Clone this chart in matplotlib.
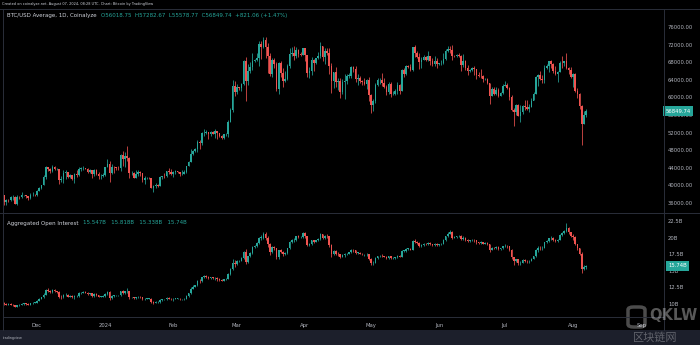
import numpy as np
import pandas as pd
import matplotlib
matplotlib.use("Agg")
import matplotlib.pyplot as plt
import matplotlib.dates as mdates
from matplotlib.lines import Line2D
from matplotlib.patches import Rectangle, FancyBboxPatch
from matplotlib.transforms import blended_transform_factory

# daily candles, 16 Nov 2023 .. 7 Aug 2024
dates = pd.date_range("2023-11-16", "2024-08-07", freq="D")

# BTC/USD average, thousands of USD. open of each day = previous close
btc_first_open = 37.88
btc_close = [
    36.16, 36.59, 36.58, 37.39, 37.47, 35.81, 37.42, 37.29, 37.72, 37.80, 37.48, 37.25, 37.83, 37.86, 37.71,
    38.69, 39.47, 39.98, 41.98, 44.08, 43.77, 43.29, 44.17, 43.72, 43.79, 41.24, 41.45, 42.89, 43.02, 41.94, 42.26,
    41.37, 42.66, 42.27, 43.65, 43.86, 43.99, 43.74, 43.01, 43.58, 42.51, 43.44, 42.59, 42.07, 42.14, 42.28,
    44.18, 44.94, 42.85, 44.17, 44.16, 43.97, 43.93, 46.97, 46.11, 46.63, 46.34, 42.78, 42.84, 41.73, 42.51, 43.15,
    42.74, 41.26, 41.62, 41.66, 41.58, 39.51, 39.85, 40.08, 39.93, 41.81, 42.12, 42.03, 43.30, 42.94, 42.58,
    43.08, 43.19, 43.01, 42.58, 42.66, 43.08, 44.34, 45.29, 47.13, 47.75, 48.29, 49.96, 49.70, 51.80, 51.92,
    52.13, 51.66, 52.12, 51.78, 52.26, 51.85, 51.30, 50.74, 51.57, 51.73, 54.52, 57.08, 62.50, 61.20,
    62.44, 62.03, 63.13, 68.33, 63.80, 66.11, 66.93, 68.30, 68.50, 69.02, 72.12, 71.48, 73.10, 71.40, 69.40, 65.30,
    68.39, 67.60, 61.93, 67.84, 65.50, 63.80, 64.10, 67.23, 69.96, 69.98, 69.46, 70.78, 69.85, 69.58, 71.29,
    69.65, 65.46, 65.97, 68.50, 67.84, 68.90, 69.36, 71.62, 69.14, 70.59, 70.06, 67.19, 63.82, 65.74, 63.42,
    63.79, 61.28, 63.47, 63.77, 64.94, 64.94, 66.84, 66.41, 64.29, 64.50, 63.77, 63.46, 63.12, 63.84, 60.64,
    58.25, 59.12, 62.89, 63.89, 64.03, 63.16, 62.33, 61.19, 63.05, 60.79, 60.79, 61.45, 62.90, 61.55, 66.27, 65.23,
    67.05, 66.94, 66.27, 71.45, 70.14, 69.12, 67.93, 68.53, 69.28, 68.50, 69.40, 68.30, 67.60, 68.36, 67.49,
    67.71, 67.75, 68.80, 70.57, 71.08, 70.76, 69.34, 69.30, 69.65, 69.51, 67.32, 68.24, 66.76, 66.01, 66.19,
    66.64, 66.49, 65.14, 64.96, 64.83, 64.10, 64.25, 63.18, 60.28, 61.80, 60.86, 61.70, 60.32, 60.89, 62.68,
    62.85, 62.03, 60.20, 57.03, 56.66, 58.23, 55.86, 56.72, 58.02, 57.74, 57.34, 57.90, 59.22, 60.79, 64.72, 65.04,
    64.09, 63.99, 66.68, 67.15, 68.17, 67.58, 65.93, 65.37, 65.78, 67.91, 67.81, 68.26, 66.78, 66.19, 64.62,
    65.35, 61.42, 60.68, 58.12, 54.02, 56.01875, 56.84974,
]
btc_high = [
    37.93, 36.84, 36.86, 37.53, 37.76, 37.66, 37.88, 37.64, 38.42, 37.88, 37.83, 37.59, 38.37, 38.44, 38.16,
    38.97, 39.68, 40.19, 42.41, 44.41, 44.28, 44.02, 44.71, 44.37, 44.04, 43.80, 42.07, 43.43, 43.41, 43.09, 42.70,
    42.43, 42.75, 43.48, 44.27, 44.20, 44.36, 43.99, 43.94, 43.77, 43.58, 43.68, 43.78, 43.11, 42.61, 42.88,
    44.19, 45.90, 45.50, 44.78, 44.33, 44.23, 44.50, 47.21, 47.89, 47.70, 48.97, 46.51, 43.24, 43.05, 43.40, 43.57,
    43.19, 42.93, 42.19, 41.87, 41.88, 41.69, 40.13, 40.51, 40.28, 42.20, 42.20, 42.84, 43.32, 43.88, 43.74,
    43.25, 43.48, 43.38, 43.12, 43.53, 43.40, 44.50, 45.60, 48.17, 48.14, 48.57, 50.30, 50.37, 52.04, 52.82,
    52.57, 52.15, 52.36, 52.47, 52.93, 52.36, 52.02, 51.55, 51.70, 51.95, 54.92, 57.53, 63.96, 63.68,
    62.98, 62.43, 63.20, 68.51, 69.20, 67.64, 67.95, 70.08, 68.67, 70.00, 72.80, 72.92, 73.64, 73.78, 72.38, 70.00,
    68.84, 68.90, 68.11, 68.05, 68.24, 66.65, 65.95, 67.58, 71.15, 71.52, 71.70, 71.50, 70.90, 70.30, 71.33,
    71.27, 69.65, 66.87, 69.25, 68.70, 69.00, 70.30, 72.70, 71.70, 71.15, 71.25, 71.22, 67.90, 65.82, 66.82,
    64.36, 64.45, 64.10, 65.42, 65.40, 65.65, 67.20, 67.17, 67.05, 65.26, 64.80, 63.90, 64.30, 64.20, 64.70,
    60.80, 59.55, 63.30, 64.45, 64.50, 65.50, 64.40, 62.90, 63.40, 63.45, 61.45, 61.80, 63.40, 63.10, 66.42, 66.70,
    67.40, 67.40, 67.70, 71.50, 71.95, 70.60, 70.05, 69.20, 69.55, 69.50, 70.60, 69.50, 68.90, 69.50, 69.00,
    67.85, 68.40, 70.20, 71.05, 71.75, 71.60, 71.95, 69.55, 69.85, 70.10, 69.55, 69.95, 68.40, 67.30, 66.40,
    66.95, 67.20, 66.40, 65.70, 66.45, 65.05, 64.50, 64.50, 63.35, 62.30, 62.45, 62.35, 62.20, 61.20, 63.00,
    63.80, 63.25, 62.25, 60.50, 57.50, 58.45, 58.40, 58.20, 58.30, 59.40, 59.40, 58.50, 59.80, 61.30, 64.85, 65.30,
    66.10, 65.10, 67.40, 67.60, 68.35, 68.45, 67.80, 67.05, 66.10, 68.20, 69.40, 68.30, 70.00, 66.95, 66.80,
    65.60, 65.55, 62.15, 61.10, 58.20, 57.00, 57.28267,
]
btc_low = [
    35.60, 35.52, 36.22, 36.39, 36.72, 35.69, 35.63, 36.93, 37.25, 37.61, 37.17, 36.71, 36.90, 37.62, 37.50,
    37.61, 38.65, 39.28, 39.98, 41.41, 43.38, 42.82, 43.10, 43.61, 43.59, 40.23, 40.68, 40.63, 41.42, 41.69, 41.68,
    41.26, 40.53, 41.80, 42.20, 43.33, 43.40, 43.62, 42.76, 42.75, 41.63, 42.11, 42.31, 41.44, 41.52, 41.97,
    42.20, 44.18, 40.75, 42.63, 42.78, 43.47, 43.60, 43.19, 44.34, 44.29, 45.60, 41.76, 42.43, 41.72, 41.72, 42.05,
    42.19, 40.67, 40.28, 41.45, 41.50, 39.45, 38.55, 39.48, 39.53, 39.82, 41.39, 41.62, 41.80, 42.69, 42.30,
    41.88, 42.60, 42.89, 42.22, 42.26, 42.57, 42.79, 44.34, 45.24, 46.87, 47.55, 47.70, 48.30, 49.27, 51.32,
    51.60, 50.64, 51.17, 51.65, 50.75, 50.64, 50.94, 50.55, 50.63, 51.28, 50.90, 54.45, 56.71, 60.41,
    60.82, 61.63, 61.36, 62.89, 59.22, 62.87, 65.55, 66.22, 68.05, 68.23, 67.20, 68.80, 71.33, 68.90, 65.60, 64.80,
    64.60, 66.60, 61.55, 60.78, 64.60, 62.30, 63.40, 63.90, 66.60, 69.40, 68.40, 68.85, 69.10, 69.35, 69.57,
    68.20, 64.55, 64.50, 65.10, 66.00, 67.48, 68.70, 69.05, 68.25, 67.50, 69.60, 65.25, 60.90, 62.20, 62.35,
    61.70, 59.80, 60.80, 59.60, 63.12, 64.30, 64.50, 65.85, 63.60, 62.80, 63.30, 62.80, 62.90, 61.80, 59.15,
    56.55, 56.95, 58.80, 62.60, 62.95, 62.70, 62.20, 60.65, 60.70, 60.20, 60.50, 60.65, 60.80, 60.75, 61.35, 64.60,
    65.10, 66.65, 65.90, 66.10, 69.20, 68.90, 66.40, 66.70, 68.50, 68.20, 68.30, 67.30, 67.15, 67.15, 66.70,
    67.40, 67.30, 67.60, 68.60, 70.40, 70.20, 68.60, 69.20, 69.15, 69.25, 66.10, 66.90, 66.30, 65.10, 65.85,
    66.05, 65.10, 64.10, 64.70, 64.50, 63.40, 63.95, 63.15, 58.45, 60.25, 60.60, 60.65, 60.00, 60.30, 60.75,
    62.50, 61.80, 59.40, 56.80, 53.50, 56.10, 55.75, 54.30, 56.30, 57.20, 57.05, 56.60, 57.80, 59.50, 60.70, 62.50,
    63.95, 63.25, 63.30, 66.50, 65.80, 66.60, 65.50, 65.10, 63.50, 65.75, 66.70, 67.10, 66.50, 65.40, 64.50,
    62.30, 61.25, 59.90, 57.25, 49.10, 53.90, 55.57877,
]

# aggregated open interest, billions of USD
oi_first_open = 10.1
oi_close = [
    10.0, 9.9, 10.0, 9.9, 9.8, 9.6, 9.8, 9.9, 10.0, 10.1, 10.0, 9.9, 10.1, 10.2, 10.2,
    10.5, 10.8, 11.0, 11.4, 12.1, 12.0, 11.8, 12.1, 11.9, 11.8, 11.1, 11.0, 11.3, 11.4, 11.1, 11.2,
    11.0, 11.2, 11.2, 11.6, 11.7, 11.8, 11.7, 11.5, 11.6, 11.2, 11.5, 11.3, 11.1, 11.1, 11.2,
    11.5, 11.8, 10.9, 11.2, 11.3, 11.3, 11.3, 11.9, 11.7, 11.9, 12.0, 11.0, 11.0, 10.9, 11.0, 11.1,
    11.0, 10.7, 10.8, 10.8, 10.8, 10.3, 10.2, 10.3, 10.3, 10.6, 10.7, 10.7, 10.9, 10.8, 10.7,
    10.8, 10.8, 10.8, 10.7, 10.7, 10.8, 11.2, 11.6, 12.3, 12.6, 12.8, 13.5, 13.4, 14.0, 14.2,
    14.1, 13.9, 14.0, 13.9, 13.9, 13.8, 13.6, 13.5, 13.7, 13.8, 14.5, 15.2, 16.2, 16.0,
    16.4, 16.5, 16.9, 17.9, 16.3, 17.2, 17.7, 18.6, 18.8, 19.2, 20.0, 20.0, 20.6, 20.0, 19.0, 17.9,
    18.6, 18.4, 17.0, 18.1, 17.9, 17.5, 17.7, 18.4, 19.3, 19.6, 19.7, 20.2, 20.1, 20.1, 20.7,
    20.2, 18.9, 19.0, 19.6, 19.4, 19.6, 19.8, 20.5, 20.0, 20.3, 20.2, 18.9, 17.6, 18.0, 17.6,
    17.5, 17.1, 17.4, 17.5, 17.6, 17.8, 18.2, 18.1, 17.7, 17.7, 17.6, 17.5, 17.5, 17.5, 16.8,
    16.1, 16.2, 16.9, 17.2, 17.3, 17.2, 17.1, 16.9, 17.2, 16.9, 16.9, 17.0, 17.3, 17.1, 18.0, 18.0,
    18.3, 18.3, 18.2, 19.5, 19.4, 19.2, 18.8, 18.9, 19.1, 19.0, 19.2, 19.0, 18.9, 19.1, 18.9,
    19.0, 19.1, 19.6, 20.2, 20.6, 20.8, 20.0, 20.1, 20.2, 20.3, 19.8, 20.0, 19.7, 19.5, 19.6,
    19.7, 19.6, 19.3, 19.2, 19.3, 19.1, 19.2, 19.0, 18.2, 18.5, 18.4, 18.6, 18.3, 18.4, 18.7,
    18.8, 18.7, 18.2, 17.0, 16.4, 16.7, 16.1, 16.2, 16.6, 16.5, 16.4, 16.5, 16.8, 17.2, 18.1, 18.5,
    18.4, 18.5, 19.3, 19.5, 19.9, 20.0, 19.6, 19.5, 19.7, 20.4, 20.7, 21.0, 21.5, 20.8, 20.3,
    20.1, 19.0, 18.4, 17.6, 15.3, 15.547, 15.74,
]
oi_high = [
    10.3, 10.1, 10.1, 10.1, 10.0, 9.9, 9.9, 10.0, 10.1, 10.2, 10.2, 10.1, 10.2, 10.3, 10.3,
    10.6, 10.9, 11.1, 11.6, 12.3, 12.4, 12.1, 12.3, 12.2, 12.0, 11.9, 11.3, 11.5, 11.6, 11.5, 11.3,
    11.3, 11.3, 11.4, 11.8, 11.8, 11.9, 11.9, 11.8, 11.7, 11.7, 11.6, 11.6, 11.4, 11.2, 11.3,
    11.6, 12.0, 11.9, 11.3, 11.4, 11.4, 11.4, 12.0, 12.1, 12.0, 12.4, 12.0, 11.1, 11.1, 11.1, 11.2,
    11.2, 11.1, 10.9, 10.9, 10.9, 10.9, 10.4, 10.4, 10.4, 10.7, 10.8, 10.8, 11.0, 11.0, 10.9,
    10.9, 10.9, 10.9, 10.9, 10.8, 10.9, 11.3, 11.7, 12.5, 12.8, 12.9, 13.6, 13.7, 14.1, 14.4,
    14.3, 14.2, 14.1, 14.1, 14.1, 14.0, 13.9, 13.7, 13.8, 13.9, 14.6, 15.4, 16.8, 16.6,
    16.6, 16.6, 17.0, 18.0, 18.3, 17.3, 17.9, 18.8, 18.9, 19.4, 20.1, 20.4, 20.8, 20.9, 20.3, 19.2,
    18.8, 18.8, 18.5, 18.2, 18.3, 18.0, 17.8, 18.5, 19.5, 19.8, 20.0, 20.3, 20.4, 20.2, 20.8,
    20.9, 20.3, 19.2, 19.7, 19.7, 19.7, 19.9, 20.7, 20.6, 20.4, 20.5, 20.3, 19.0, 18.1, 18.1,
    17.8, 17.6, 17.5, 17.7, 17.7, 17.9, 18.3, 18.3, 18.2, 17.9, 17.8, 17.7, 17.6, 17.7, 17.6,
    16.9, 16.4, 17.0, 17.3, 17.4, 17.5, 17.3, 17.2, 17.3, 17.3, 17.0, 17.1, 17.4, 17.4, 18.1, 18.2,
    18.4, 18.4, 18.4, 19.6, 19.8, 19.5, 19.3, 19.0, 19.2, 19.2, 19.4, 19.3, 19.1, 19.2, 19.2,
    19.1, 19.2, 19.8, 20.3, 20.8, 21.1, 21.0, 20.2, 20.3, 20.4, 20.4, 20.2, 20.1, 19.8, 19.7,
    19.8, 19.8, 19.7, 19.4, 19.5, 19.4, 19.3, 19.3, 19.0, 18.6, 18.6, 18.7, 18.7, 18.5, 18.8,
    19.0, 18.9, 18.8, 18.3, 17.1, 16.8, 16.8, 16.4, 16.7, 16.8, 16.6, 16.6, 16.9, 17.3, 18.3, 18.7,
    18.7, 18.7, 19.4, 19.7, 20.0, 20.2, 20.1, 19.8, 19.8, 20.5, 20.9, 21.2, 22.2, 21.6, 20.9,
    20.5, 20.2, 19.1, 18.5, 17.8, 15.9, 15.818,
]
oi_low = [
    9.8, 9.8, 9.8, 9.8, 9.7, 9.5, 9.5, 9.7, 9.8, 9.9, 9.9, 9.8, 9.8, 10.0, 10.1,
    10.1, 10.4, 10.7, 10.9, 11.3, 11.8, 11.6, 11.6, 11.8, 11.7, 10.9, 10.8, 10.9, 11.2, 11.0, 11.0,
    10.9, 10.8, 11.0, 11.1, 11.5, 11.6, 11.6, 11.4, 11.3, 11.1, 11.1, 11.2, 11.0, 11.0, 11.0,
    11.1, 11.4, 10.6, 10.8, 11.1, 11.2, 11.2, 11.2, 11.5, 11.5, 11.7, 10.8, 10.9, 10.8, 10.8, 10.9,
    10.9, 10.6, 10.6, 10.7, 10.7, 10.2, 10.0, 10.1, 10.2, 10.2, 10.5, 10.6, 10.6, 10.7, 10.6,
    10.5, 10.7, 10.7, 10.6, 10.6, 10.6, 10.7, 11.1, 11.5, 12.2, 12.5, 12.7, 13.1, 13.3, 13.9,
    13.9, 13.7, 13.8, 13.8, 13.6, 13.5, 13.5, 13.4, 13.4, 13.6, 13.7, 14.4, 15.1, 15.5,
    15.8, 16.3, 16.4, 16.8, 16.0, 16.2, 17.1, 17.5, 18.5, 18.6, 19.0, 19.6, 19.8, 19.6, 18.6, 17.4,
    17.7, 18.2, 16.8, 16.8, 17.7, 17.2, 17.4, 17.6, 18.3, 19.2, 19.4, 19.5, 20.0, 20.0, 20.0,
    20.0, 18.7, 18.7, 18.9, 19.2, 19.3, 19.5, 19.7, 19.8, 19.8, 20.0, 18.6, 17.0, 17.4, 17.4,
    17.2, 16.9, 17.0, 17.0, 17.4, 17.5, 17.7, 17.9, 17.6, 17.5, 17.5, 17.4, 17.3, 17.3, 16.6,
    15.9, 15.9, 16.1, 16.8, 17.1, 17.1, 17.0, 16.8, 16.8, 16.8, 16.8, 16.8, 16.9, 17.0, 17.0, 17.8,
    17.9, 18.2, 18.1, 18.1, 19.2, 19.1, 18.6, 18.6, 18.8, 18.9, 18.9, 18.9, 18.8, 18.8, 18.8,
    18.8, 18.9, 19.0, 19.5, 20.1, 20.5, 19.8, 19.9, 20.0, 20.1, 19.6, 19.6, 19.5, 19.3, 19.4,
    19.5, 19.3, 19.1, 19.0, 19.1, 19.0, 19.0, 18.9, 17.9, 18.1, 18.3, 18.3, 18.2, 18.2, 18.3,
    18.6, 18.5, 18.0, 16.8, 15.9, 16.3, 15.9, 15.8, 16.1, 16.3, 16.2, 16.2, 16.4, 16.7, 17.1, 17.9,
    18.2, 18.2, 18.4, 19.2, 19.4, 19.7, 19.5, 19.3, 19.3, 19.6, 20.3, 20.6, 20.8, 20.6, 20.1,
    19.7, 18.9, 18.2, 17.4, 14.7, 15.1, 15.338,
]

price_ticks = [36000, 40000, 44000, 48000, 52000, 56000, 60000, 64000, 68000, 72000, 76000]
oi_ticks = [10, 12.5, 15, 17.5, 20, 22.5]
oi_tick_labels = ["10B", "12.5B", "15B", "17.5B", "20B", "22.5B"]
month_ticks = ["2023-12-01", "2024-01-01", "2024-02-01", "2024-03-01", "2024-04-01",
               "2024-05-01", "2024-06-01", "2024-07-01", "2024-08-01", "2024-09-01"]
month_labels = ["Dec", "2024", "Feb", "Mar", "Apr", "May", "Jun", "Jul", "Aug", "Sep"]

for s in (btc_close, btc_high, btc_low, oi_close, oi_high, oi_low):
    assert len(s) == len(dates), len(s)

UP = "#26a69a"
DOWN = "#ef5350"
TXT = "#b2b5be"
GRID = "#2a2e39"
W, H = 700, 345


def fx(x):
    return x / W


def fy(y):
    return 1 - y / H


def candles(ax, x, o, h, l, c, min_body):
    col = np.where(c >= o, UP, DOWN)
    ax.vlines(x, l, h, colors=col, linewidth=0.55, zorder=2)
    ax.bar(x, np.maximum(np.abs(c - o), min_body), bottom=np.minimum(o, c),
           width=0.74, color=col, linewidth=0, zorder=3)


fig = plt.figure(figsize=(7, 3.45), dpi=100, facecolor="black")
ax1 = fig.add_axes([fx(3), fy(213), fx(661), 203 / H], facecolor="black")
ax2 = fig.add_axes([fx(3), fy(317), fx(661), 104 / H], facecolor="black", sharex=ax1)

x = mdates.date2num(dates)
bc = np.array(btc_close) * 1000
bo = np.concatenate([[btc_first_open * 1000], bc[:-1]])
candles(ax1, x, bo, np.array(btc_high) * 1000, np.array(btc_low) * 1000, bc, 80)

oc = np.array(oi_close)
oo = np.concatenate([[oi_first_open], oc[:-1]])
candles(ax2, x, oo, np.array(oi_high), np.array(oi_low), oc, 0.06)

dec1 = mdates.date2num(pd.Timestamp("2023-12-01"))
ax1.set_xlim(dec1 - 15.5, dec1 + 285.4)
ax1.set_ylim(33730, 79860)
ax2.set_ylim(8.04, 23.7)

for ax in (ax1, ax2):
    for sp in ax.spines.values():
        sp.set_visible(False)
    ax.yaxis.tick_right()
    ax.tick_params(axis="both", length=0, labelsize=3.8, labelcolor=TXT, pad=2.9)

ax1.set_yticks(price_ticks)
ax1.set_yticklabels([f"{v:.2f}" for v in price_ticks])
ax1.tick_params(axis="x", labelbottom=False)
ax2.set_yticks(oi_ticks)
ax2.set_yticklabels(oi_tick_labels)
ax2.set_xticks(mdates.date2num(pd.to_datetime(month_ticks)))
ax2.set_xticklabels(month_labels)
ax2.tick_params(axis="x", pad=4.5)

# last value tags on the scales
tr1 = blended_transform_factory(ax1.transAxes, ax1.transData)
ax1.text(1.0025, bc[-1], f"{bc[-1]:.2f}", transform=tr1, fontsize=3.8, color="white",
         va="center", ha="left", zorder=10, clip_on=False,
         bbox=dict(boxstyle="square,pad=0.45", fc=UP, ec="none"))
tr2 = blended_transform_factory(ax2.transAxes, ax2.transData)
ax2.text(1.0065, oc[-1], f"{oc[-1]:.2f}B", transform=tr2, fontsize=3.8, color="white",
         va="center", ha="left", zorder=10, clip_on=False,
         bbox=dict(boxstyle="square,pad=0.45", fc=UP, ec="none"))


# frame lines
def line(x0, y0, x1, y1):
    fig.add_artist(Line2D([fx(x0), fx(x1)], [fy(y0), fy(y1)], color=GRID, linewidth=0.7))


line(0, 9, W, 9)
line(0, 213, W, 213)
line(3, 317, 664, 317)
line(664, 9, 664, 330)
line(3, 9, 3, 330)

# bottom toolbar
fig.add_artist(Rectangle((0, 0), 1, 15 / H, transform=fig.transFigure, fc="#1c1f2b", ec="none"))
fig.text(fx(3), fy(338), "tradingview", fontsize=2.4, color=TXT, va="center")

# headers
fig.text(fx(2), fy(3.5), "Created on coinalyze.net, August 07, 2024, 08:28 UTC, Chart: Bitcoin by TradingView",
         fontsize=2.5, color="#d1d4dc", va="center")
fig.text(fx(7), fy(16), "BTC/USD Average, 1D, Coinalyze", fontsize=3.95, color="#d1d4dc", va="center")
fig.text(fx(101), fy(16), "O56018.75  H57282.67  L55578.77  C56849.74  +821.06 (+1.47%)",
         fontsize=3.95, color=UP, va="center")
fig.text(fx(7), fy(223), "Aggregated Open Interest", fontsize=3.95, color="#d1d4dc", va="center")
fig.text(fx(83), fy(223), "15.547B   15.818B   15.338B   15.74B", fontsize=3.95, color=UP, va="center")

# site watermark, kept clear of the axis labels
fig.add_artist(FancyBboxPatch((fx(628), fy(327)), fx(17), 20 / H, transform=fig.transFigure,
                              boxstyle="round,pad=0,rounding_size=0.008", fc="none",
                              ec=(1, 1, 1, 0.3), linewidth=2.5))
fig.text(fx(649), fy(316), "QKLW", fontsize=10.5, fontweight="bold", color=(1, 1, 1, 0.35), va="center")
fig.text(fx(633), fy(337.5), "区块链网", fontsize=8, color=(1, 1, 1, 0.3), va="center",
         family=["Noto Sans CJK SC", "DejaVu Sans"])

fig.savefig("out.png", dpi=100, facecolor="black")
